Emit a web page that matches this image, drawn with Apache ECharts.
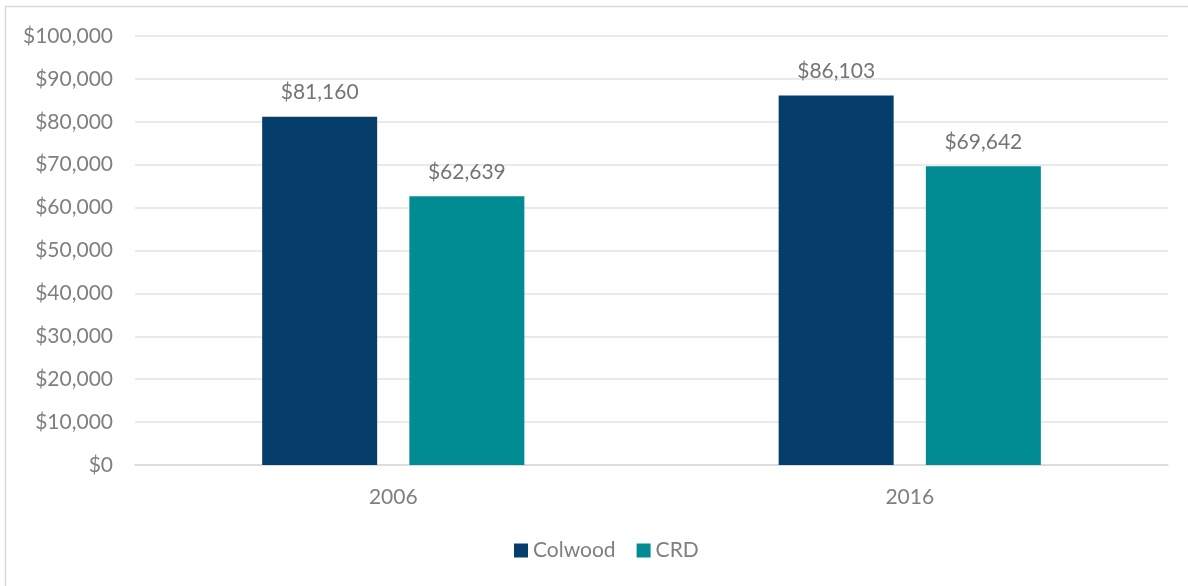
<!DOCTYPE html>
<html lang="en">
<head>
	<meta charset="UTF-8">
	<title>Colwood vs CRD</title>
	<script src="https://cdn.jsdelivr.net/npm/echarts@6/dist/echarts.min.js"></script>
	<style>
		html, body { margin: 0; padding: 0; background: #fff; }
	</style>
</head>
<body>
	<div id="main" style="width:1188px; height:586px"></div>
	<script>
		var years = ["2006", "2016"];
		var colwood = [81160, 86103];
		var crd = [62639, 69642];

		function money(v) {
			return "$" + Number(v).toLocaleString("en-US");
		}

		var font = "Lato, 'Open Sans', sans-serif";
		var myChart = echarts.init(document.getElementById("main"));
		myChart.setOption({
			textStyle: { fontFamily: font },
			graphic: [{
				type: "rect",
				shape: { x: 5.5, y: 6.5, width: 1200, height: 600 },
				style: { fill: "none", stroke: "#d9d9d9", lineWidth: 1.5 },
				silent: true
			}],
			grid: { left: 135, right: 20, top: 36, bottom: 121 },
			legend: {
				bottom: 20,
				left: 509,
				itemWidth: 14,
				itemHeight: 14,
				itemGap: 21,
				icon: "rect",
				textStyle: { fontSize: 21, color: "#7f7f7f", fontFamily: font },
				data: ["Colwood", "CRD"]
			},
			xAxis: {
				type: "category",
				data: years,
				axisLine: { lineStyle: { color: "#d9d9d9", width: 1.5 } },
				axisTick: { show: false },
				axisLabel: { fontSize: 21, color: "#7f7f7f", margin: 22 }
			},
			yAxis: {
				type: "value",
				min: 0,
				max: 100000,
				interval: 10000,
				axisLine: { show: false },
				axisTick: { show: false },
				splitLine: { lineStyle: { color: "#e3e3e3", width: 1.5 } },
				axisLabel: { fontSize: 21, color: "#7f7f7f", margin: 22, formatter: money }
			},
			series: [{
				name: "Colwood",
				type: "bar",
				data: colwood,
				barWidth: 115,
				barGap: "28%",
				itemStyle: { color: "#053e6b" },
				label: { show: true, position: "top", distance: 14, fontSize: 21, color: "#757575", formatter: function (p) { return money(p.value); } }
			}, {
				name: "CRD",
				type: "bar",
				data: crd,
				barWidth: 115,
				itemStyle: { color: "#018b93" },
				label: { show: true, position: "top", distance: 14, fontSize: 21, color: "#757575", formatter: function (p) { return money(p.value); } }
			}]
		});
	</script>
</body>
</html>
